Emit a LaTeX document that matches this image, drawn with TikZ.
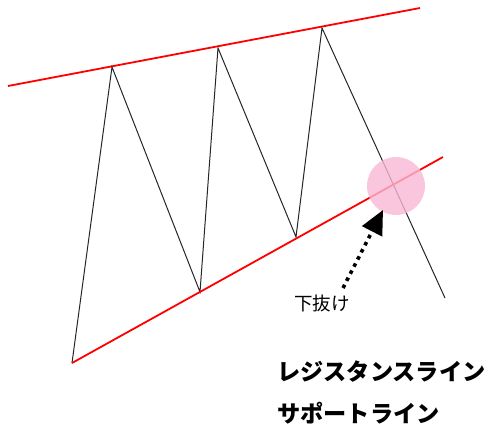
\documentclass[tikz,border=0pt]{standalone}
\usepackage{fontspec}
\newfontfamily\jpfont{Noto Sans CJK JP}
\usetikzlibrary{arrows.meta,positioning}

\begin{document}
\begin{tikzpicture}[
  x=1pt, y=-1pt,
  trendline/.style={draw=red, line width=1.8pt},
  price/.style={draw=black!85, line width=1pt},
  breakzone/.style={circle, fill={rgb,255:red,248;green,184;blue,212}, opacity=0.8, minimum size=58pt, inner sep=0pt},
  breakarrow/.style={draw, line width=3.6pt, dash pattern=on 3.6pt off 4.4pt, -{Triangle[length=24pt,width=22pt]}},
  label/.style={font=\jpfont\fontsize{18.5}{18.5}\selectfont, inner sep=0pt},
  legend/.style={font=\jpfont\bfseries\fontsize{23.2}{23.2}\selectfont, anchor=west, inner sep=0pt},
]
\useasboundingbox (0,0) rectangle (490,432);

% resistance and support
\coordinate (r0) at (8,86);
\coordinate (r1) at (420,8);
\coordinate (s0) at (72,363);
\coordinate (s1) at (443,157);

% price swings
\coordinate (p0) at (72,363);
\coordinate (p1) at (112,67);
\coordinate (p2) at (200,292);
\coordinate (p3) at (218,48);
\coordinate (p4) at (296,237);
\coordinate (p5) at (322,28);
\coordinate (p6) at (445,298);

\draw[trendline] (r0) -- (r1);
\draw[price] (p0) -- (p1) -- (p2) -- (p3) -- (p4) -- (p5) -- (p6);
\draw[trendline] (s0) -- (s1);

% breakout
\node[breakzone] (zone) at (396,186) {};
\node[label] (down) at (322,303) {下抜け};
\coordinate (tail) at (343,288);
\coordinate (tip) at (383,210);
\draw[breakarrow] (tail) -- (tip);

\node[legend] (res) at (277,372) {レジスタンスライン};
\node[legend] (sup) at (277,413) {サポートライン};
\end{tikzpicture}
\end{document}
